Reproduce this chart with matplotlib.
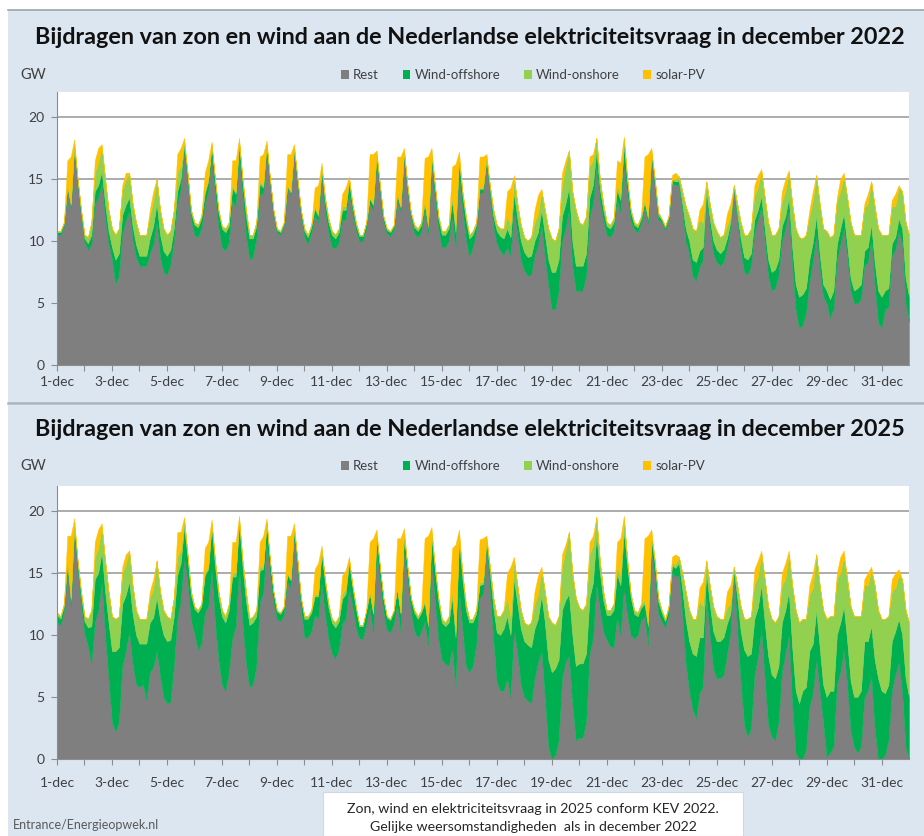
import numpy as np
import matplotlib.pyplot as plt
from matplotlib.patches import Rectangle, Patch

# uurwaarden per 3 uur, 1 dec 00:00 t/m 1 jan 00:00 (GW)
uren = np.arange(249) * 3

dag_labels = ["1-dec", "", "3-dec", "", "5-dec", "", "7-dec", "", "9-dec", "",
              "11-dec", "", "13-dec", "", "15-dec", "", "17-dec", "", "19-dec", "",
              "21-dec", "", "23-dec", "", "25-dec", "", "27-dec", "", "29-dec", "",
              "31-dec"]

# ---- december 2022 ----
vraag_2022 = [
    10.8, 10.8, 11.5, 16.5, 16.8, 18.2, 15.0, 12.5,
    10.5, 10.3, 11.5, 16.5, 17.5, 17.8, 15.0, 12.5,
    11.0, 10.5, 11.0, 14.5, 15.5, 15.5, 13.0, 11.5,
    10.5, 10.5, 10.5, 12.5, 14.0, 15.0, 12.5, 11.0,
    10.5, 10.8, 12.5, 17.0, 17.5, 18.3, 15.5, 12.5,
    11.5, 11.3, 12.0, 15.5, 16.5, 18.0, 15.0, 12.5,
    11.2, 11.0, 11.5, 16.5, 16.5, 18.3, 15.0, 12.5,
    10.5, 10.5, 11.5, 16.8, 17.0, 18.1, 15.0, 12.5,
    11.0, 10.8, 11.5, 17.0, 17.0, 17.8, 15.0, 12.5,
    11.0, 10.5, 11.3, 14.3, 14.5, 16.3, 13.5, 11.8,
    10.8, 10.5, 11.0, 13.8, 14.3, 15.2, 13.0, 11.5,
    10.5, 10.5, 11.5, 17.0, 17.0, 17.3, 14.5, 12.0,
    11.0, 10.8, 11.3, 16.8, 16.8, 17.5, 14.5, 12.3,
    11.3, 11.0, 11.5, 16.7, 16.8, 17.5, 14.5, 12.0,
    10.8, 10.8, 11.3, 16.0, 16.2, 17.2, 14.0, 12.0,
    10.5, 10.8, 11.5, 16.8, 16.8, 17.0, 14.5, 12.5,
    11.3, 11.0, 11.0, 14.0, 14.3, 15.3, 13.0, 11.3,
    10.3, 10.0, 10.3, 12.5, 13.7, 14.2, 12.5, 11.0,
    10.2, 10.0, 11.0, 15.5, 16.5, 17.3, 14.0, 12.5,
    11.5, 11.3, 12.0, 16.8, 17.0, 18.3, 15.0, 13.0,
    11.5, 11.3, 11.8, 16.5, 16.3, 18.4, 15.0, 12.5,
    11.5, 11.3, 12.0, 16.8, 17.0, 17.5, 15.0, 12.3,
    11.8, 11.2, 12.0, 15.3, 15.5, 15.2, 14.0, 12.8,
    12.0, 11.0, 10.8, 12.5, 13.0, 14.8, 13.0, 11.5,
    10.8, 10.3, 10.5, 12.2, 13.0, 14.5, 13.0, 11.5,
    10.5, 10.5, 11.0, 14.5, 15.3, 15.8, 13.5, 11.5,
    10.5, 10.5, 11.0, 14.0, 15.0, 15.7, 13.0, 11.0,
    10.3, 10.2, 10.5, 12.5, 14.0, 15.3, 13.0, 11.0,
    10.8, 10.3, 10.5, 13.5, 15.0, 15.5, 13.5, 11.5,
    10.5, 10.5, 10.5, 13.0, 13.8, 14.8, 12.8, 11.0,
    10.5, 10.5, 10.5, 13.3, 13.8, 14.5, 14.0, 11.5,
    10.5]

zon_2022 = [
    0, 0, 0, 2.0, 3.8, 0.5, 0, 0,
    0, 0, 0, 1.0, 1.2, 0.2, 0, 0,
    0, 0, 0, 0.4, 0.6, 0, 0, 0,
    0, 0, 0, 0.5, 0.8, 0, 0, 0,
    0, 0, 0, 1.5, 1.5, 0.3, 0, 0,
    0, 0, 0, 1.5, 1.5, 0.2, 0, 0,
    0, 0, 0, 2.0, 2.5, 0.3, 0, 0,
    0, 0, 0, 2.0, 2.5, 0.3, 0, 0,
    0, 0, 0, 2.5, 3.0, 0.3, 0, 0,
    0, 0, 0, 1.5, 2.3, 0.3, 0, 0,
    0, 0, 0, 1.0, 1.5, 0.2, 0, 0,
    0, 0, 0, 3.5, 4.0, 0.3, 0, 0,
    0, 0, 0, 3.0, 4.0, 0.3, 0, 0,
    0, 0, 0, 3.5, 5.5, 0.5, 0, 0,
    0, 0, 0, 2.5, 5.0, 0.5, 0, 0,
    0, 0, 0, 2.5, 2.5, 0.3, 0, 0,
    0, 0, 0, 2.0, 3.0, 0.3, 0, 0,
    0, 0, 0, 1.0, 1.5, 0.2, 0, 0,
    0, 0, 0, 1.0, 0.5, 0, 0, 0,
    0, 0, 0, 0.8, 0.5, 0, 0, 0,
    0, 0, 0, 2.0, 2.5, 0.2, 0, 0,
    0, 0, 0, 3.5, 5.0, 0.3, 0, 0,
    0, 0, 0, 0.3, 0.5, 0, 0, 0,
    0, 0, 0, 0.8, 1.5, 0, 0, 0,
    0, 0, 0, 1.0, 1.0, 0, 0, 0,
    0, 0, 0, 0.8, 1.0, 0.2, 0, 0,
    0, 0, 0, 0.8, 1.0, 0.2, 0, 0,
    0, 0, 0, 0.5, 0.8, 0, 0, 0,
    0, 0, 0, 0.3, 1.0, 0.3, 0, 0,
    0, 0, 0, 0.3, 0.8, 0, 0, 0,
    0, 0, 0, 0.5, 1.0, 0.2, 0, 0,
    0]

wind_zee_2022 = [
    0.2, 0.2, 0.2, 0.2, 0.2, 0.2, 0.2, 0.3,
    0.3, 0.5, 0.8, 1.0, 1.0, 1.0, 1.2, 1.0,
    1.0, 2.0, 1.8, 1.5, 1.3, 1.0, 1.0, 1.0,
    0.8, 0.8, 0.8, 1.2, 1.5, 1.5, 1.8, 1.7,
    1.5, 1.2, 1.0, 1.0, 0.8, 0.5, 0.5, 0.6,
    0.8, 0.8, 0.8, 0.8, 0.8, 0.8, 1.0, 1.2,
    1.5, 1.5, 1.3, 1.0, 1.0, 0.8, 1.2, 1.5,
    1.7, 1.5, 1.0, 0.8, 0.5, 0.3, 0.2, 0.2,
    0.2, 0.2, 0.2, 0.2, 0.2, 0.2, 0.2, 0.3,
    0.5, 0.5, 0.5, 0.5, 0.5, 0.5, 0.8, 0.8,
    1.0, 0.8, 0.8, 0.8, 0.8, 0.8, 0.5, 0.5,
    0.4, 0.4, 0.4, 0.4, 0.4, 0.4, 0.4, 0.4,
    0.3, 0.3, 0.3, 0.3, 0.3, 0.3, 0.3, 0.3,
    0.5, 0.5, 0.5, 0.5, 0.5, 0.5, 0.8, 0.8,
    1.0, 1.0, 1.0, 1.2, 1.2, 1.0, 1.2, 1.5,
    1.5, 1.0, 0.5, 0.3, 0.3, 0.3, 0.5, 0.8,
    1.0, 1.2, 1.3, 1.5, 1.5, 1.3, 1.3, 1.5,
    1.5, 1.5, 1.5, 1.2, 1.0, 1.2, 1.8, 2.0,
    3.0, 3.0, 2.5, 2.0, 2.0, 1.8, 2.0, 2.0,
    2.0, 2.0, 1.8, 1.5, 1.5, 1.3, 1.0, 0.8,
    0.7, 0.7, 0.7, 0.8, 1.0, 1.5, 1.0, 0.7,
    0.4, 0.4, 0.4, 0.4, 0.4, 0.4, 0.4, 0.4,
    0.2, 0.2, 0.2, 0.2, 0.3, 0.3, 0.6, 1.0,
    1.0, 1.3, 1.5, 1.3, 1.0, 0.5, 0.8, 1.0,
    1.0, 1.0, 1.0, 0.8, 0.5, 0.2, 0.5, 1.0,
    1.2, 1.2, 1.0, 1.0, 0.8, 0.8, 1.0, 1.3,
    1.5, 1.5, 1.3, 1.2, 1.0, 1.0, 1.5, 2.0,
    2.5, 2.5, 2.0, 1.8, 1.5, 1.5, 1.2, 1.0,
    1.0, 1.5, 1.5, 1.3, 1.3, 1.2, 1.0, 1.0,
    1.0, 1.2, 1.2, 1.2, 1.2, 1.2, 1.8, 2.5,
    2.5, 1.5, 1.5, 1.0, 1.0, 1.0, 1.2, 2.0,
    2.0]

wind_land_2022 = [
    0.1, 0.1, 0.1, 0.1, 0.1, 0.1, 0.1, 0.2,
    0.3, 0.5, 1.0, 1.5, 1.8, 2.0, 2.0, 1.7,
    1.5, 2.0, 2.0, 2.0, 2.0, 2.0, 1.8, 1.8,
    1.7, 1.7, 1.7, 1.8, 2.0, 2.0, 2.0, 1.8,
    1.7, 1.5, 1.5, 1.5, 1.0, 0.3, 0.2, 0.2,
    0.2, 0.2, 0.2, 0.2, 0.2, 0.2, 0.2, 0.2,
    0.2, 0.3, 0.3, 0.2, 0.2, 0.2, 0.3, 0.5,
    0.3, 0.3, 0.3, 0.2, 0.2, 0.1, 0.1, 0.1,
    0.1, 0.1, 0.1, 0.1, 0.1, 0.1, 0.1, 0.1,
    0.2, 0.2, 0.2, 0.2, 0.2, 0.2, 0.3, 0.3,
    0.3, 0.3, 0.3, 0.3, 0.3, 0.3, 0.2, 0.2,
    0.1, 0.1, 0.1, 0.1, 0.1, 0.1, 0.1, 0.1,
    0.1, 0.1, 0.1, 0.1, 0.1, 0.1, 0.1, 0.1,
    0.2, 0.2, 0.2, 0.2, 0.2, 0.2, 0.2, 0.2,
    0.3, 0.3, 0.3, 0.3, 0.5, 0.3, 0.3, 0.3,
    0.3, 0.3, 0.2, 0.1, 0.1, 0.1, 0.3, 0.5,
    0.5, 0.6, 0.8, 1.0, 1.0, 1.2, 1.2, 1.3,
    1.2, 1.3, 1.5, 1.5, 1.5, 1.5, 2.0, 2.5,
    2.7, 2.5, 2.5, 2.5, 3.0, 3.0, 4.0, 4.5,
    3.5, 3.3, 3.0, 2.5, 2.0, 1.0, 0.8, 0.5,
    0.3, 0.3, 0.3, 0.4, 0.5, 0.5, 0.3, 0.2,
    0.2, 0.2, 0.2, 0.2, 0.2, 0.2, 0.2, 0.2,
    0.1, 0.1, 0.1, 0.1, 0.2, 0.4, 1.0, 1.8,
    2.0, 2.5, 2.5, 2.5, 2.0, 0.8, 1.2, 1.5,
    1.5, 1.3, 1.2, 1.0, 0.5, 0.2, 0.8, 1.3,
    1.8, 2.0, 2.0, 2.0, 1.8, 2.0, 2.5, 3.0,
    3.0, 2.8, 2.5, 2.0, 2.0, 2.0, 3.5, 4.5,
    4.8, 4.5, 4.3, 3.5, 3.3, 3.3, 4.0, 4.5,
    4.8, 5.0, 4.5, 3.5, 3.0, 3.0, 3.8, 4.5,
    4.5, 4.3, 4.0, 3.5, 3.5, 3.5, 4.5, 5.0,
    5.0, 4.5, 4.3, 3.0, 2.5, 2.5, 3.0, 4.5,
    5.0]

# ---- december 2025 (KEV 2022, weer van december 2022) ----
vraag_2025 = [
    11.8, 11.5, 12.5, 18.0, 18.0, 19.4, 16.0, 13.5,
    11.5, 11.3, 12.0, 17.5, 18.5, 19.0, 16.0, 13.5,
    11.5, 11.3, 11.5, 15.5, 16.5, 16.8, 14.0, 12.0,
    11.3, 11.3, 11.3, 13.5, 14.5, 16.0, 13.5, 12.0,
    11.5, 11.3, 13.0, 18.3, 18.3, 19.5, 16.5, 13.5,
    12.3, 12.0, 12.5, 17.0, 17.5, 19.3, 16.0, 13.5,
    12.0, 11.5, 12.5, 17.5, 17.5, 19.6, 16.0, 13.5,
    11.3, 11.5, 12.0, 17.5, 18.0, 19.4, 16.0, 13.5,
    12.0, 11.8, 12.3, 18.0, 18.0, 19.0, 16.0, 13.0,
    11.5, 11.5, 12.0, 15.3, 15.8, 17.2, 14.5, 12.5,
    11.3, 11.0, 11.5, 14.8, 15.2, 16.3, 14.0, 12.3,
    10.8, 10.8, 12.0, 17.5, 17.8, 18.5, 15.5, 13.0,
    11.5, 11.3, 12.0, 17.8, 17.8, 18.6, 15.5, 13.0,
    12.0, 11.5, 12.0, 17.8, 18.0, 18.7, 15.5, 13.0,
    11.3, 11.0, 11.5, 17.0, 17.3, 18.5, 15.0, 12.5,
    11.3, 11.3, 12.0, 17.7, 17.8, 18.0, 15.5, 13.0,
    11.5, 11.5, 12.0, 15.0, 15.5, 16.3, 14.0, 12.0,
    11.0, 10.8, 11.0, 13.5, 14.8, 15.5, 13.5, 11.5,
    11.0, 10.8, 11.5, 16.5, 17.3, 18.3, 15.0, 13.0,
    12.2, 12.0, 12.5, 17.5, 18.0, 19.5, 16.0, 13.5,
    12.0, 12.0, 12.5, 17.5, 17.8, 19.6, 16.0, 13.3,
    12.0, 11.8, 12.5, 17.8, 18.0, 18.5, 16.0, 13.0,
    12.0, 11.3, 12.3, 16.3, 16.5, 16.3, 15.0, 13.5,
    12.0, 11.3, 11.3, 13.8, 14.3, 16.0, 14.0, 12.3,
    11.5, 11.3, 11.3, 13.5, 14.0, 15.5, 14.0, 12.3,
    11.3, 11.3, 11.5, 15.3, 16.0, 16.8, 14.5, 12.3,
    11.3, 11.0, 11.5, 15.0, 15.8, 16.8, 14.0, 12.0,
    11.0, 11.3, 11.3, 14.0, 15.0, 16.5, 14.0, 12.0,
    11.3, 11.5, 11.5, 15.0, 16.3, 16.8, 14.5, 12.3,
    11.5, 11.5, 11.5, 14.5, 15.0, 15.5, 14.0, 12.0,
    11.3, 11.3, 11.5, 14.5, 15.0, 15.3, 14.5, 12.0,
    11.0]

zon_2025 = [
    0, 0, 0, 2.0, 5.0, 0.5, 0, 0,
    0, 0, 0, 1.2, 1.5, 0.3, 0, 0,
    0, 0, 0, 0.5, 0.8, 0, 0, 0,
    0, 0, 0, 0.5, 0.8, 0, 0, 0,
    0, 0, 0, 2.0, 1.5, 0.3, 0, 0,
    0, 0, 0, 2.0, 2.0, 0.3, 0, 0,
    0, 0, 0, 2.5, 2.5, 0.3, 0, 0,
    0, 0, 0, 2.0, 2.5, 0.3, 0, 0,
    0, 0, 0, 3.0, 3.5, 0.4, 0, 0,
    0, 0, 0, 2.0, 2.5, 0.3, 0, 0,
    0, 0, 0, 1.5, 1.5, 0.2, 0, 0,
    0, 0, 0, 4.0, 6.0, 0.5, 0, 0,
    0, 0, 0, 4.0, 6.0, 0.5, 0, 0,
    0, 0, 0, 5.0, 7.0, 0.5, 0, 0,
    0, 0, 0, 3.5, 7.0, 0.5, 0, 0,
    0, 0, 0, 3.5, 3.5, 0.3, 0, 0,
    0, 0, 0, 2.0, 4.0, 0.3, 0, 0,
    0, 0, 0, 1.0, 1.5, 0.3, 0, 0,
    0, 0, 0, 1.0, 0.5, 0, 0, 0,
    0, 0, 0, 1.0, 0.8, 0, 0, 0,
    0, 0, 0, 2.0, 3.0, 0.3, 0, 0,
    0, 0, 0, 5.0, 7.0, 0.5, 0, 0,
    0, 0, 0, 0.5, 0.8, 0, 0, 0,
    0, 0, 0, 1.0, 2.0, 0, 0, 0,
    0, 0, 0, 1.3, 1.5, 0, 0, 0,
    0, 0, 0, 1.2, 1.3, 0.3, 0, 0,
    0, 0, 0, 1.0, 1.3, 0.3, 0, 0,
    0, 0, 0, 0.8, 1.2, 0, 0, 0,
    0, 0, 0, 0.5, 1.3, 0.5, 0, 0,
    0, 0, 0, 0.5, 1.0, 0.3, 0, 0,
    0, 0, 0, 1.0, 1.2, 0.5, 0, 0,
    0]

wind_zee_2025 = [
    0.6, 0.5, 0.5, 0.5, 0.5, 0.5, 0.5, 0.8,
    1.0, 1.5, 3.0, 3.5, 3.0, 2.5, 3.5, 4.5,
    5.7, 6.5, 6.0, 5.0, 4.5, 4.0, 4.0, 4.0,
    3.5, 3.3, 4.5, 4.0, 4.0, 4.3, 4.5, 5.0,
    5.0, 5.0, 4.0, 3.5, 3.0, 2.5, 2.0, 2.0,
    2.0, 3.0, 3.0, 3.0, 3.0, 3.5, 4.5, 5.0,
    5.5, 5.5, 5.0, 5.0, 4.0, 3.5, 4.5, 5.0,
    5.0, 5.0, 4.0, 2.5, 2.0, 1.5, 1.0, 0.8,
    0.6, 0.6, 0.6, 0.6, 0.6, 0.6, 0.6, 0.8,
    1.5, 1.5, 1.5, 1.5, 1.8, 2.5, 2.5, 2.5,
    2.5, 2.5, 2.3, 2.0, 2.0, 2.0, 1.5, 1.5,
    1.0, 1.0, 1.0, 1.2, 1.5, 1.2, 1.0, 1.0,
    1.0, 1.0, 1.0, 1.2, 1.5, 1.2, 1.0, 1.0,
    1.5, 1.5, 1.5, 1.5, 1.5, 2.0, 2.5, 3.0,
    3.0, 3.0, 3.5, 4.0, 4.0, 4.0, 4.0, 4.5,
    4.0, 3.5, 2.5, 1.0, 0.8, 0.5, 1.5, 2.5,
    4.0, 4.5, 5.0, 5.0, 5.0, 4.0, 4.0, 4.5,
    4.5, 4.5, 4.5, 4.0, 3.5, 4.5, 6.0, 7.0,
    7.0, 7.0, 6.5, 5.5, 5.0, 5.0, 5.5, 6.0,
    6.0, 6.0, 5.5, 4.5, 4.5, 4.0, 3.0, 2.5,
    2.0, 2.5, 3.0, 3.5, 4.0, 4.5, 4.0, 3.0,
    2.0, 1.5, 1.0, 1.0, 1.5, 1.0, 1.0, 1.0,
    0.7, 0.5, 0.5, 0.5, 0.7, 1.0, 2.0, 3.5,
    4.0, 4.5, 5.0, 4.5, 4.0, 2.0, 2.5, 3.0,
    3.0, 3.0, 3.0, 2.5, 1.5, 0.5, 2.5, 4.0,
    6.0, 6.5, 6.0, 4.5, 4.0, 3.5, 4.5, 5.5,
    5.0, 5.0, 4.5, 4.0, 3.5, 3.5, 4.5, 5.0,
    4.5, 5.5, 5.0, 4.5, 4.0, 4.0, 3.5, 3.0,
    4.8, 5.0, 4.5, 4.0, 4.0, 3.5, 3.5, 4.0,
    4.0, 4.5, 4.5, 4.5, 4.0, 4.0, 5.5, 6.5,
    5.5, 5.0, 4.5, 4.0, 3.5, 3.5, 4.5, 5.5,
    5.0]

wind_land_2025 = [
    0.2, 0.2, 0.2, 0.2, 0.2, 0.2, 0.2, 0.3,
    0.4, 0.7, 1.3, 1.8, 2.0, 2.0, 2.5, 2.5,
    2.8, 2.6, 2.5, 2.5, 2.5, 2.5, 2.3, 2.0,
    2.0, 2.0, 2.0, 2.0, 2.3, 3.0, 2.3, 2.0,
    2.0, 1.7, 1.5, 1.5, 1.0, 0.5, 0.3, 0.3,
    0.2, 0.2, 0.2, 0.2, 0.2, 0.3, 0.5, 0.5,
    0.5, 0.5, 0.5, 0.3, 0.3, 0.3, 0.5, 0.8,
    0.5, 0.5, 0.5, 0.3, 0.2, 0.2, 0.1, 0.1,
    0.1, 0.1, 0.1, 0.1, 0.1, 0.1, 0.1, 0.1,
    0.2, 0.2, 0.2, 0.2, 0.2, 0.3, 0.3, 0.3,
    0.3, 0.4, 0.4, 0.4, 0.4, 0.3, 0.2, 0.2,
    0.1, 0.1, 0.1, 0.1, 0.1, 0.1, 0.1, 0.1,
    0.1, 0.1, 0.1, 0.1, 0.1, 0.1, 0.1, 0.1,
    0.2, 0.2, 0.2, 0.2, 0.3, 0.3, 0.3, 0.3,
    0.3, 0.3, 0.5, 0.5, 0.5, 0.5, 0.5, 0.5,
    0.3, 0.3, 0.3, 0.2, 0.2, 0.1, 0.5, 0.8,
    1.3, 1.5, 1.5, 1.5, 1.5, 1.5, 1.5, 1.5,
    1.5, 1.6, 2.0, 2.0, 2.0, 2.0, 2.5, 3.5,
    4.0, 3.5, 3.5, 3.5, 4.0, 5.0, 5.0, 5.5,
    4.5, 4.3, 4.0, 3.5, 3.0, 1.5, 1.0, 0.7,
    0.4, 0.4, 0.5, 0.6, 0.8, 1.0, 0.5, 0.3,
    0.3, 0.3, 0.3, 0.3, 0.3, 0.3, 0.3, 0.3,
    0.2, 0.2, 0.2, 0.2, 0.3, 0.5, 1.3, 2.3,
    2.5, 2.8, 3.0, 3.0, 2.5, 1.0, 1.5, 2.0,
    2.0, 1.8, 1.5, 1.3, 0.8, 0.3, 1.0, 2.0,
    2.5, 3.0, 3.0, 2.8, 2.5, 2.5, 3.5, 4.0,
    4.5, 4.5, 4.0, 3.0, 2.5, 3.0, 5.0, 6.5,
    6.5, 5.8, 5.5, 4.5, 4.5, 4.5, 5.0, 6.0,
    6.3, 6.0, 6.0, 4.5, 4.0, 4.0, 5.0, 6.0,
    6.5, 6.5, 6.0, 4.5, 4.5, 4.5, 6.0, 5.5,
    5.8, 6.0, 5.5, 4.0, 3.5, 3.5, 4.5, 5.5,
    6.0]

namen = ["Rest", "Wind-offshore", "Wind-onshore", "solar-PV"]
kleuren = ["#7f7f7f", "#00b050", "#92d050", "#ffc000"]

W, H = 924, 836
plt.rcParams['font.family'] = ['Lato', 'DejaVu Sans']
fig = plt.figure(figsize=(W / 100, H / 100), dpi=100)
fig.patch.set_facecolor("white")

def fx(px):
    return px / W

def fy(py):
    return 1 - py / H

# lichtblauwe achtergrond van de twee grafieken (onder de assen)
blauw = "#dce6f1"
fig.patches.append(Rectangle((fx(8), fy(403)), fx(916), (403 - 10) / H,
                             transform=fig.transFigure, facecolor=blauw,
                             edgecolor="none", zorder=-10))
fig.patches.append(Rectangle((fx(8), 0), fx(916), (836 - 405) / H,
                             transform=fig.transFigure, facecolor=blauw,
                             edgecolor="none", zorder=-10))
fig.add_artist(plt.Line2D([fx(8), 1], [fy(9.5), fy(9.5)], color="#9aa4ae",
                          lw=1.2, zorder=-5))
fig.add_artist(plt.Line2D([fx(8), 1], [fy(403.5), fy(403.5)], color="#a9b3bd",
                          lw=1.8, zorder=-5))


def teken(ax, vraag, zon, zee, land):
    vraag = np.array(vraag)
    zon = np.array(zon)
    zee = np.array(zee)
    land = np.array(land)
    rest = np.clip(vraag - zon - zee - land, 0, None)
    ax.stackplot(uren, rest, zee, land, zon, colors=kleuren,
                 linewidth=0.3, edgecolor="face", zorder=2)
    ax.set_xlim(0, 744)
    ax.set_ylim(0, 22)
    ax.set_yticks([0, 5, 10, 15, 20])
    ax.set_xticks(np.arange(0, 744, 24))
    ax.set_xticklabels(dag_labels)
    ax.yaxis.grid(True, color="#a6a6a6", lw=1.3)
    ax.set_axisbelow(True)
    ax.set_facecolor("white")
    for s in ["top", "right"]:
        ax.spines[s].set_visible(False)
    for s in ["left", "bottom"]:
        ax.spines[s].set_color("#8c8c8c")
        ax.spines[s].set_zorder(3)
    ax.tick_params(axis="both", colors="#8c8c8c", labelcolor="#404040",
                   labelsize=10, length=4, direction="out")
    ax.tick_params(axis="y", pad=5)
    ax.tick_params(axis="x", pad=4)


ax1 = fig.add_axes([fx(57), fy(365), fx(852), 273 / H])
teken(ax1, vraag_2022, zon_2022, wind_zee_2022, wind_land_2022)

ax2 = fig.add_axes([fx(57), fy(759), fx(852), 273 / H])
teken(ax2, vraag_2025, zon_2025, wind_zee_2025, wind_land_2025)
ax2.tick_params(axis="x", pad=9)

titel = "Bijdragen van zon en wind aan de Nederlandse elektriciteitsvraag in december "
fig.text(fx(470), fy(38), titel + "2022", ha="center", va="center",
         fontsize=16.8, fontweight="bold", color="#111111")
fig.text(fx(470), fy(430), titel + "2025", ha="center", va="center",
         fontsize=16.8, fontweight="bold", color="#111111")

handles = [Patch(facecolor=k, edgecolor="none") for k in kleuren]
for y in [75, 466]:
    fig.text(fx(20), fy(y), "GW", ha="left", va="center", fontsize=10.5, color="#404040")
    fig.legend(handles, namen, loc="center", bbox_to_anchor=(fx(523), fy(y)),
               ncol=4, frameon=False, fontsize=9.5, handlelength=0.6,
               handleheight=0.6, handletextpad=0.3, columnspacing=1.8,
               labelcolor="#404040")

# toelichting onderaan
fig.patches.append(Rectangle((fx(323), 0), fx(420), (836 - 792) / H,
                             transform=fig.transFigure, facecolor="white",
                             edgecolor="#d0d8e0", lw=0.8, zorder=1))
fig.text(fx(533), fy(809), "Zon, wind en elektriciteitsvraag in 2025 conform KEV 2022.",
         ha="center", va="center", fontsize=10.2, color="#262626")
fig.text(fx(533), fy(827), "Gelijke weersomstandigheden  als in december 2022",
         ha="center", va="center", fontsize=10.2, color="#262626")
fig.text(fx(13), fy(825), "Entrance/Energieopwek.nl", ha="left", va="center",
         fontsize=9, color="#595959")

fig.savefig("out.png", dpi=100, facecolor=fig.get_facecolor())
